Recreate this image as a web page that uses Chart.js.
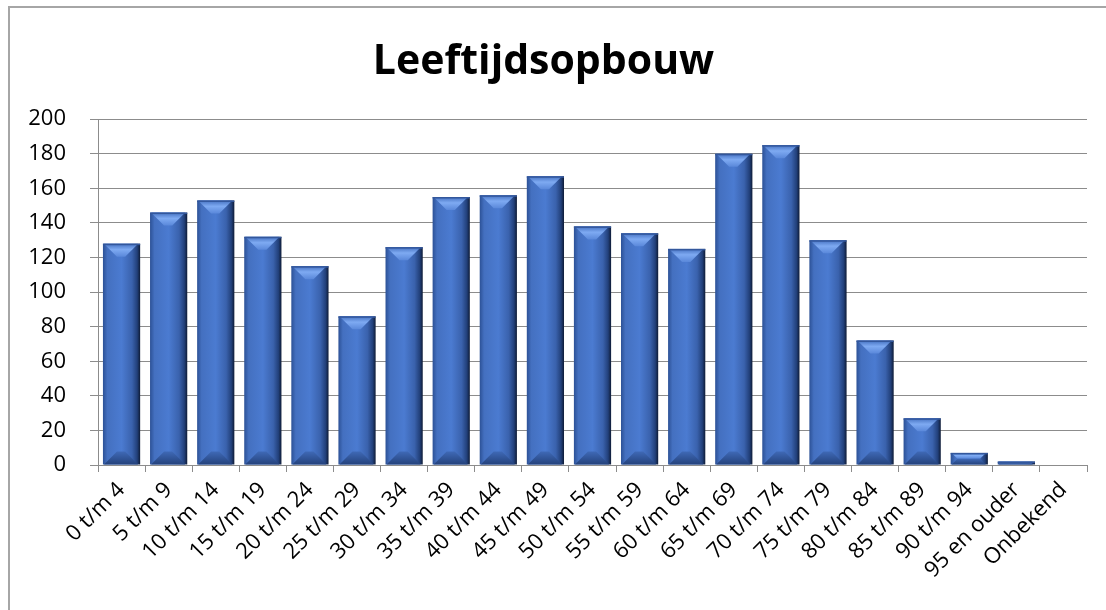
<!DOCTYPE html>
<html>
<head>
<meta charset="utf-8">
<script src="https://cdn.jsdelivr.net/npm/chart.js@4.4.1/dist/chart.umd.min.js"></script>
<style>
    body { margin: 0; background: #fff; overflow: hidden; }
    #wrap { position: relative; width: 1106px; height: 610px; }
    #frame { position: absolute; left: 8px; top: 6px; width: 1200px; height: 700px; border: 2px solid #a6a6a6; }
    canvas { position: absolute; left: 0; top: 0; }
</style>
</head>
<body>
<div id="wrap">
    <div id="frame"></div>
    <canvas id="ageChart" width="1106" height="610"></canvas>
</div>
<script>
// Categories and counts
const ageGroups = ['0 t/m 4', '5 t/m 9', '10 t/m 14', '15 t/m 19', '20 t/m 24', '25 t/m 29', '30 t/m 34',
    '35 t/m 39', '40 t/m 44', '45 t/m 49', '50 t/m 54', '55 t/m 59', '60 t/m 64', '65 t/m 69',
    '70 t/m 74', '75 t/m 79', '80 t/m 84', '85 t/m 89', '90 t/m 94', '95 en ouder', 'Onbekend'];
const counts = [128, 146, 153, 132, 115, 86, 126, 155, 156, 167, 138, 134, 125, 180, 185, 130, 72, 27, 7, 2, 0];
const yTicks = [0, 20, 40, 60, 80, 100, 120, 140, 160, 180, 200];

const fontName = "'Open Sans', sans-serif";

// Paint each bar with a bevelled look, using the bar element's own geometry
const bevelPlugin = {
    id: 'bevel',
    afterDatasetsDraw(chart) {
        const ctx = chart.ctx;
        const meta = chart.getDatasetMeta(0);
        meta.data.forEach(function (bar) {
            const x0 = bar.x - bar.width / 2;
            const x1 = bar.x + bar.width / 2;
            const top = bar.y;
            const bottom = bar.base;
            const h = bottom - top;
            if (h < 0.5) return;
            const b = Math.min(13, h / 2);

            ctx.save();
            // face
            const face = ctx.createLinearGradient(x0, 0, x1, 0);
            face.addColorStop(0, '#2c5196');
            face.addColorStop(0.12, '#4470c0');
            face.addColorStop(0.5, '#4b7bd1');
            face.addColorStop(0.78, '#3a62ad');
            face.addColorStop(0.92, '#22407a');
            face.addColorStop(1, '#0e1b36');
            ctx.fillStyle = face;
            ctx.fillRect(x0, top, x1 - x0, h);

            // top bevel
            const tg = ctx.createLinearGradient(0, top, 0, top + b);
            tg.addColorStop(0, '#4470c0');
            tg.addColorStop(0.45, '#7eaaf2');
            tg.addColorStop(1, '#5a88da');
            ctx.fillStyle = tg;
            ctx.beginPath();
            ctx.moveTo(x0 + 1, top);
            ctx.lineTo(x1 - 2, top);
            ctx.lineTo(x1 - 2 - b, top + b);
            ctx.lineTo(x0 + 1 + b, top + b);
            ctx.closePath();
            ctx.fill();

            // bottom bevel
            const bg = ctx.createLinearGradient(0, bottom - b, 0, bottom);
            bg.addColorStop(0, '#3f69b6');
            bg.addColorStop(1, '#24427c');
            ctx.fillStyle = bg;
            ctx.beginPath();
            ctx.moveTo(x0 + 1, bottom);
            ctx.lineTo(x1 - 2, bottom);
            ctx.lineTo(x1 - 2 - b, bottom - b);
            ctx.lineTo(x0 + 1 + b, bottom - b);
            ctx.closePath();
            ctx.fill();

            // top edge line
            ctx.fillStyle = '#33579c';
            ctx.fillRect(x0, top, x1 - x0, 1.5);
            ctx.restore();
        });
    }
};

const ctx = document.getElementById('ageChart').getContext('2d');
window.ageChart = new Chart(ctx, {
    type: 'bar',
    data: {
        labels: ageGroups,
        datasets: [{
            label: 'Leeftijdsopbouw',
            data: counts,
            backgroundColor: 'rgba(0,0,0,0)',
            borderWidth: 0,
            categoryPercentage: 1.0,
            barPercentage: 0.79
        }]
    },
    options: {
        responsive: false,
        animation: false,
        layout: { padding: { left: 0, right: 19, top: 0, bottom: 0 } },
        plugins: {
            legend: { display: false },
            tooltip: { enabled: false },
            title: {
                display: true,
                text: 'Leeftijdsopbouw',
                color: '#000',
                font: { family: fontName, size: 41, weight: 'bold' },
                padding: { top: 38, bottom: 32 }
            }
        },
        scales: {
            x: {
                grid: { drawOnChartArea: false, drawTicks: true, tickLength: 7, offset: true, color: '#8c8c8c' },
                border: { color: '#8c8c8c', width: 1 },
                ticks: {
                    color: '#000',
                    font: { family: fontName, size: 22 },
                    maxRotation: 45,
                    minRotation: 45,
                    autoSkip: false,
                    padding: 5
                },
                afterFit(scale) { scale.height = 145; }
            },
            y: {
                min: 0,
                max: 200,
                afterBuildTicks(scale) { scale.ticks = yTicks.map(v => ({ value: v })); },
                grid: { color: '#8c8c8c', tickLength: 8 },
                border: { color: '#8c8c8c', width: 1 },
                ticks: {
                    color: '#000',
                    font: { family: fontName, size: 22 },
                    padding: 24
                },
                afterFit(scale) { scale.width = 98; }
            }
        }
    },
    plugins: [bevelPlugin]
});
</script>
</body>
</html>
